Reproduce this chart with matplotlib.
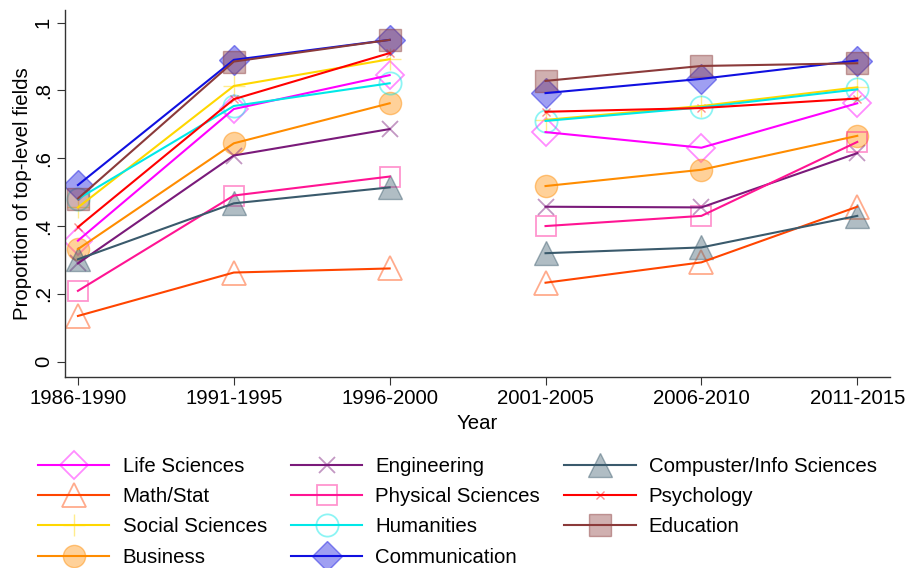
import matplotlib
matplotlib.use("Agg")
import matplotlib.pyplot as plt
from matplotlib.colors import to_rgba
from matplotlib.legend_handler import HandlerTuple

plt.rcParams['font.family'] = ['Liberation Sans', 'DejaVu Sans']

# Five-year periods on the x axis
periods = ["1986-1990", "1991-1995", "1996-2000", "2001-2005", "2006-2010", "2011-2015"]

# Proportion of top-level fields, per field and period
life_sciences = [0.357, 0.745, 0.845, 0.677, 0.631, 0.762]
math_stat = [0.135, 0.263, 0.275, 0.233, 0.293, 0.457]
social_sciences = [0.455, 0.813, 0.892, 0.713, 0.754, 0.809]
business = [0.332, 0.644, 0.762, 0.518, 0.566, 0.666]
engineering = [0.290, 0.608, 0.686, 0.457, 0.455, 0.615]
physical_sciences = [0.209, 0.490, 0.546, 0.400, 0.430, 0.648]
humanities = [0.480, 0.754, 0.821, 0.710, 0.750, 0.803]
communication = [0.521, 0.890, 0.949, 0.792, 0.834, 0.888]
computer_info = [0.302, 0.467, 0.514, 0.320, 0.337, 0.430]
psychology = [0.397, 0.774, 0.910, 0.737, 0.748, 0.776]
education = [0.481, 0.885, 0.949, 0.828, 0.872, 0.880]

labels = ["Life Sciences", "Math/Stat", "Social Sciences", "Business",
          "Engineering", "Physical Sciences", "Humanities", "Communication",
          "Compuster/Info Sciences", "Psychology", "Education"]
series = [life_sciences, math_stat, social_sciences, business,
          engineering, physical_sciences, humanities, communication,
          computer_info, psychology, education]

# line colour, marker, filled?, marker size, marker edge width
styles = [
    ("#ff00ff", "D", False, 14.5, 1.3),
    ("#ff4500", "^", False, 17.0, 1.3),
    ("#ffd700", "+", False, 16.0, 1.0),
    ("#ff8c00", "o", True, 16.0, 1.0),
    ("#7a1a7a", "x", False, 11.0, 1.3),
    ("#ff1493", "s", False, 15.0, 1.3),
    ("#00e8e8", "o", False, 16.0, 1.3),
    ("#1010e0", "D", True, 15.0, 1.0),
    ("#3a5a6c", "^", True, 17.0, 1.0),
    ("#ff0000", "x", False, 6.0, 1.0),
    ("#8b3a3a", "s", True, 15.5, 1.0),
]

W, H = 909, 568
fig = plt.figure(figsize=(W / 100, H / 100), dpi=100)
ax = fig.add_axes([65 / W, 1 - 377 / H, 825 / W, 367 / H])

x = list(range(len(periods)))
FS = 14.7
handles = []
for vals, (col, mk, filled, ms, mew) in zip(series, styles):
    face = to_rgba(col, 0.4) if filled else "none"
    edge = to_rgba(col, 0.45)
    mh, = ax.plot(x, vals, linestyle="none", marker=mk, markersize=ms,
                  markerfacecolor=face, markeredgecolor=edge,
                  markeredgewidth=mew, zorder=2)
    # two separate spans: 1986-2000 and 2001-2015
    lh, = ax.plot(x[:3], vals[:3], color=col, lw=1.5, zorder=3)
    ax.plot(x[3:], vals[3:], color=col, lw=1.5, zorder=3)
    handles.append((mh, lh))

ax.set_xlim(-0.083, 5.21)
ax.set_ylim(-0.045, 1.037)
ax.set_xticks(x)
ax.set_xticklabels(periods, fontsize=FS)
ax.set_yticks([0, 0.2, 0.4, 0.6, 0.8, 1.0])
ax.set_yticklabels(["0", ".2", ".4", ".6", ".8", "1"], fontsize=FS,
                   rotation=90, va="center")
for s in ("top", "right"):
    ax.spines[s].set_visible(False)
for s in ("left", "bottom"):
    ax.spines[s].set_color("#333333")
    ax.spines[s].set_linewidth(1.0)
ax.tick_params(length=5.8, width=0.8, color="#333333", pad=3)
ax.set_xlabel("Year", fontsize=FS, labelpad=4)
ax.set_ylabel("Proportion of top-level fields", fontsize=FS, labelpad=1.5)

fig.legend(handles, labels, ncol=3, frameon=False, fontsize=FS,
           loc="upper left", bbox_to_anchor=(38 / W, 1 - 457 / H),
           handler_map={tuple: HandlerTuple(ndivide=1)},
           handlelength=3.5, handletextpad=0.64, columnspacing=1.18,
           labelspacing=0.55, borderpad=0, borderaxespad=0, numpoints=1)

fig.savefig("out.png", dpi=100, facecolor="white")
